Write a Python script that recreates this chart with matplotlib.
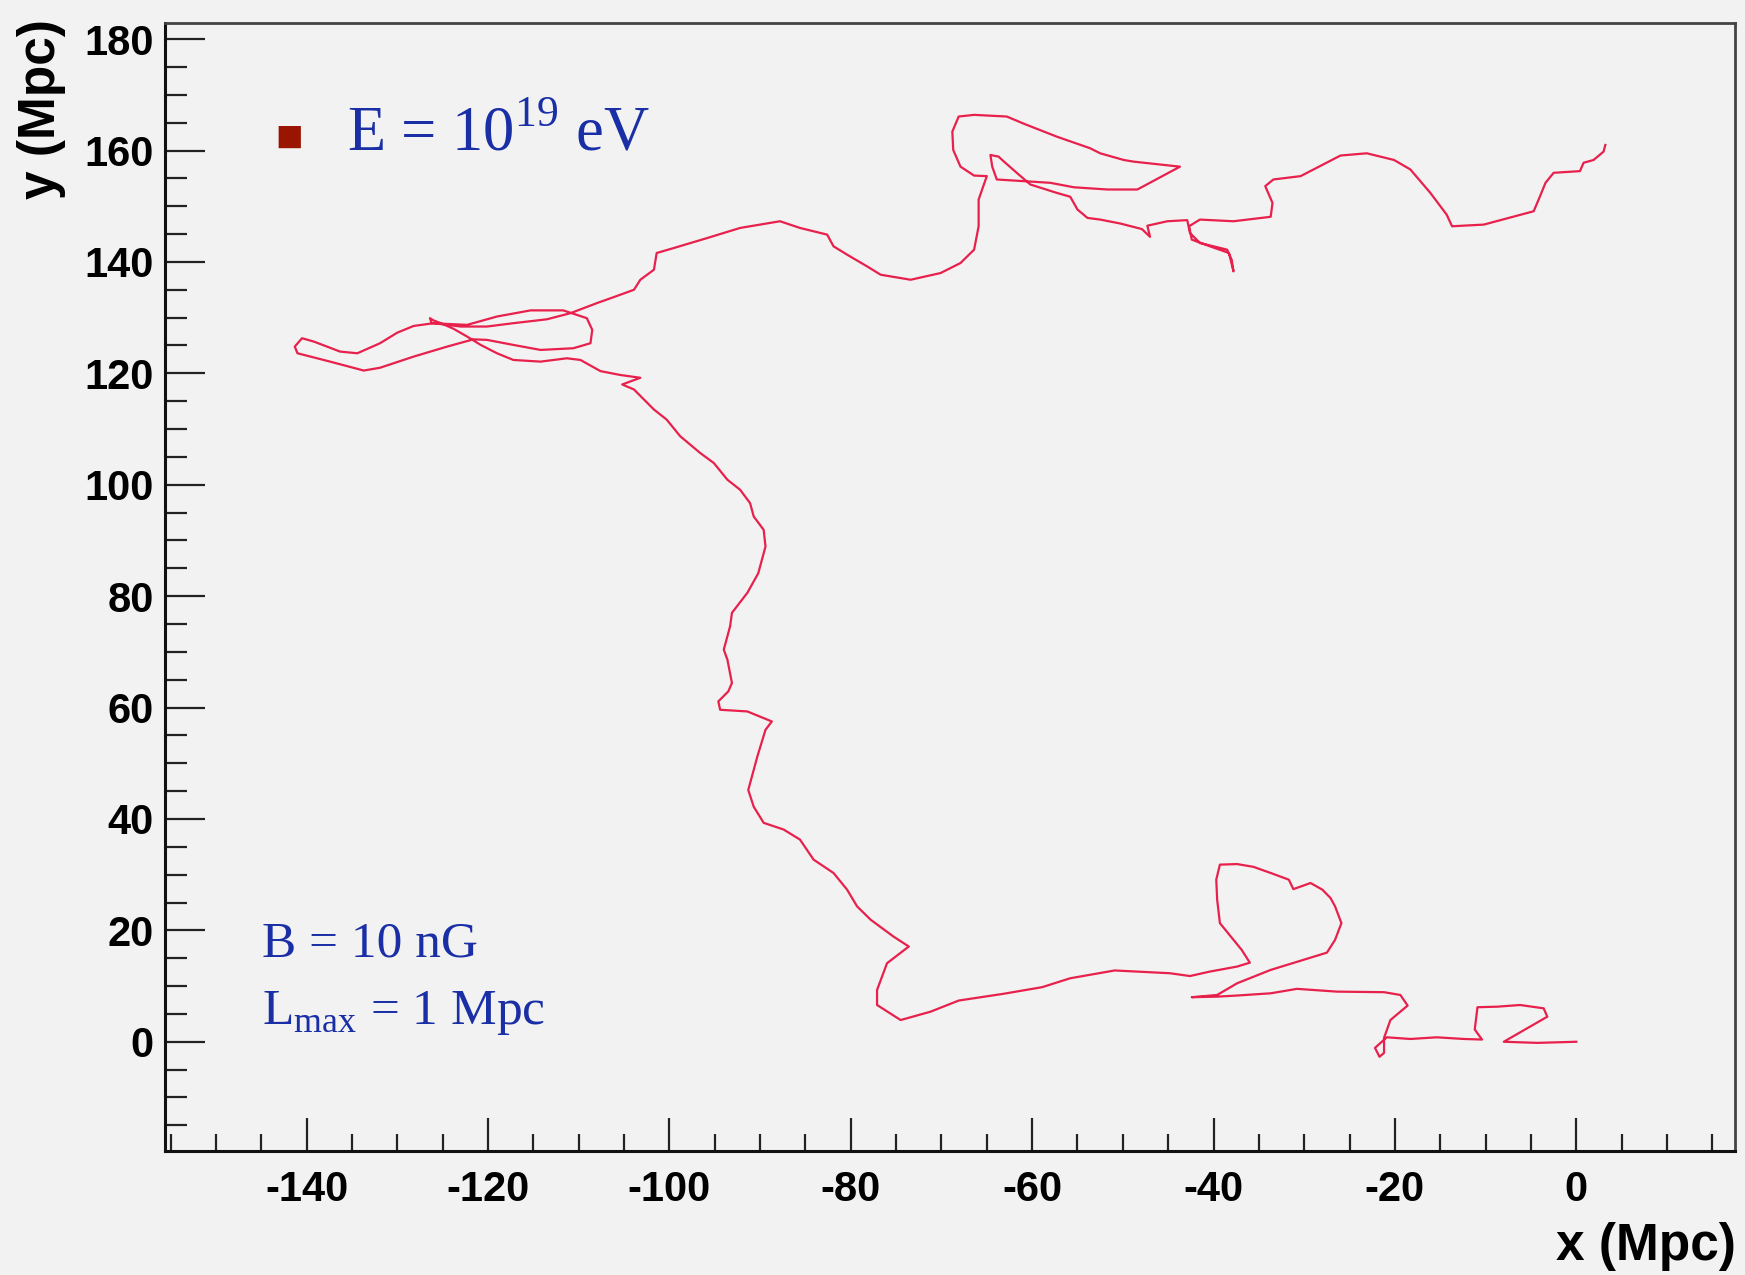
import matplotlib
matplotlib.use("Agg")
import matplotlib.pyplot as plt
from matplotlib.ticker import MultipleLocator

plt.rcParams["mathtext.fontset"] = "custom"
plt.rcParams["mathtext.rm"] = "Liberation Serif"
plt.rcParams["axes.unicode_minus"] = False

# trajectory of the particle, starting at the origin (Mpc)
track_x = [
    0.0, -4.3, -8.0, -3.2, -3.6, -6.2, -8.7, -10.9, -11.2, -10.4, -12.4, -15.4, -18.3, -20.9,
    -22.2, -21.7, -21.2, -21.2, -20.5, -18.6, -19.4, -21.2, -26.4, -30.8, -33.7, -37.4, -39.6,
    -42.4, -39.6, -37.4, -33.7, -30.1, -27.5, -26.6, -25.9, -26.6, -27.1, -28.0, -29.3, -31.2,
    -31.7, -33.7, -35.6, -37.4, -39.3, -39.7, -39.6, -39.3, -38.1, -36.9, -36.0, -37.4, -40.4,
    -42.6, -44.8, -50.9, -55.8, -58.9, -63.2, -68.1, -71.2, -74.5, -77.1, -77.1, -76.0, -73.6,
    -75.3, -77.8, -79.3, -80.4, -81.9, -84.1, -85.6, -87.4, -89.6, -90.7, -91.3, -90.3, -89.4,
    -88.7, -91.4, -94.4, -94.6, -93.5, -93.1, -93.6, -94.0, -93.3, -93.1, -91.4, -90.2, -89.4,
    -89.6, -90.7, -91.1, -92.2, -93.6, -95.1, -96.6, -98.8, -100.3, -101.7, -103.9, -105.2,
    -103.2, -105.4, -107.6,
    -109.8, -111.3, -114.2, -117.2, -119.0, -120.8, -122.3, -123.8, -125.2, -126.0, -126.4,
    -126.2, -122.3, -119.0, -115.3, -111.7, -109.1, -108.5, -108.7, -110.6, -114.2, -117.2,
    -120.1, -121.6, -124.5, -128.2, -131.9, -133.7, -137.4, -141.0, -141.3, -140.5, -139.2,
    -136.3, -134.4, -131.9, -130.0, -128.2, -126.0, -123.0, -120.1, -117.2, -113.5, -110.9,
    -108.0, -106.1, -103.9,
    -103.2, -101.7, -101.4, -99.5, -95.8, -92.2, -87.8, -85.6, -82.6, -81.9, -80.4, -78.2,
    -76.7, -73.4, -70.1, -67.9, -66.4, -65.9, -65.9, -65.0, -66.4, -67.9, -68.7, -68.8, -68.1,
    -66.4, -62.8, -60.9, -57.3, -53.6, -52.5, -49.9, -48.8, -43.7, -48.4, -51.7, -55.4, -58.0,
    -60.9, -63.9, -64.4, -64.6, -63.7, -63.1, -61.7, -60.2, -57.3, -55.8, -55.0, -53.9, -52.5,
    -50.3, -47.9, -47.0, -47.3, -45.1, -42.9, -42.6, -41.5, -38.5, -38.0, -37.8, -38.3, -40.4,
    -42.4, -42.7, -41.5, -37.8, -33.7, -33.5, -34.3, -33.4, -30.4, -26.0, -23.1, -20.1, -18.3,
    -16.1, -14.3, -13.7, -10.2, -4.7, -4.0, -3.4, -2.5, 0.4, 0.8, 1.9, 3.0, 3.2,
]
track_y = [
    0.0, -0.2, 0.0, 4.5, 6.0, 6.6, 6.3, 6.2, 2.2, 0.4, 0.5, 0.8, 0.5, 0.8,
    -1.1, -2.7, -2.0, 0.7, 3.9, 6.5, 8.4, 8.9, 9.0, 9.5, 8.7, 8.3, 8.1,
    8.0, 8.4, 10.5, 12.9, 14.7, 16.0, 18.3, 21.3, 24.3, 25.8, 27.3, 28.5, 27.4,
    29.1, 30.3, 31.4, 31.9, 31.8, 29.1, 25.5, 21.3, 18.9, 16.5, 14.2, 13.5, 12.6,
    11.8, 12.3, 12.8, 11.4, 9.8, 8.6, 7.4, 5.4, 3.9, 6.6, 9.3, 14.1, 17.1,
    18.9, 21.9, 24.3, 27.3, 30.3, 32.7, 36.3, 38.1, 39.3, 42.2, 45.2, 51.2, 56.0,
    57.5, 59.3, 59.6, 61.1, 62.9, 64.4, 68.6, 70.4, 74.6, 77.0, 80.6, 84.1, 88.9,
    91.9, 94.3, 96.7, 99.1, 100.9, 103.9, 105.7, 108.7, 111.7, 113.5, 117.1, 118.0,
    119.2, 119.7, 120.4,
    122.4, 122.7, 122.1, 122.4, 123.6, 125.1, 126.6, 128.0, 129.0, 129.5, 129.9,
    129.0, 128.7, 130.2, 131.3, 131.3, 129.9, 127.8, 125.4, 124.5, 124.2, 125.1,
    126.0, 126.1, 124.8, 123.0, 121.0, 120.5, 122.1, 123.6, 124.8, 126.3, 125.7,
    123.9, 123.6, 125.4, 127.3, 128.5, 129.0, 128.4, 128.4, 129.0, 129.7, 130.8,
    132.6, 133.7, 135.0,
    136.8, 138.6, 141.6, 142.5, 144.3, 146.1, 147.3, 146.1, 144.9, 142.8, 141.3, 139.2,
    137.7, 136.8, 138.0, 139.8, 142.2, 146.4, 151.2, 155.4, 155.5, 157.1, 160.1, 163.4, 166.1,
    166.4, 166.1, 164.8, 162.5, 160.4, 159.5, 158.3, 158.0, 157.1, 153.0, 153.0, 153.4, 154.2,
    154.5, 154.8, 157.1, 159.2, 158.9, 158.0, 156.0, 153.9, 152.4, 151.7, 149.4, 147.9, 147.6,
    146.9, 145.9, 144.5, 146.5, 147.3, 147.5, 145.2, 143.4, 142.2, 140.4, 138.3, 141.6, 142.8,
    144.0, 146.4, 147.6, 147.3, 148.1, 150.6, 153.6, 154.8, 155.4, 159.1, 159.5, 158.3, 156.6,
    152.4, 148.5, 146.4, 146.7, 149.1, 151.8, 154.2, 156.0, 156.3, 157.8, 158.3, 159.8, 161.0,
]

energy_label = r"E = 10$^{\mathrm{19}}$ eV"
field_label = "B = 10 nG"
scale_label = r"L$_{\mathrm{max}}$ = 1 Mpc"

BG = "#f2f2f2"
TEXT_BLUE = "#1a2fa6"

fig = plt.figure(figsize=(17.45, 12.75), dpi=100, facecolor=BG)
ax = fig.add_axes([0.0946, 0.0973, 0.8997, 0.8847], facecolor=BG)

ax.plot(track_x, track_y, color="#e8204c", lw=1.6)

ax.set_xlim(-155.6, 17.5)
ax.set_ylim(-19.6, 182.9)

ax.xaxis.set_major_locator(MultipleLocator(20))
ax.xaxis.set_minor_locator(MultipleLocator(5))
ax.yaxis.set_major_locator(MultipleLocator(20))
ax.yaxis.set_minor_locator(MultipleLocator(5))

ax.tick_params(axis="both", which="both", direction="in", top=False, right=False,
               color="#222222", width=1.6)
ax.tick_params(axis="y", which="major", length=29, pad=8)
ax.tick_params(axis="y", which="minor", length=16)
ax.tick_params(axis="x", which="major", length=24, pad=14)
ax.tick_params(axis="x", which="minor", length=12)

for lab in ax.get_xticklabels() + ax.get_yticklabels():
    lab.set_fontfamily("Liberation Sans")
    lab.set_fontweight("bold")
    lab.set_fontsize(30)

for side in ["left", "bottom"]:
    ax.spines[side].set_linewidth(2.2)
    ax.spines[side].set_color("#111111")
for side in ["top", "right"]:
    ax.spines[side].set_linewidth(2.0)
    ax.spines[side].set_color("#444444")

fig.text(0.024, 0.985, "y (Mpc)", rotation=90, ha="center", va="top",
         fontfamily="Liberation Sans", fontweight="bold", fontsize=37)
fig.text(0.995, 0.012, "x (Mpc)", ha="right", va="baseline",
         fontfamily="Liberation Sans", fontweight="bold", fontsize=37)

# legend-like annotations
fig.text(0.1656, 0.8925, "\u25a0", color="#9a1500", fontsize=21, ha="center", va="center",
         fontfamily="DejaVu Sans")
fig.text(0.1989, 0.8816, energy_label, color=TEXT_BLUE, fontsize=45, ha="left",
         va="baseline", fontfamily="Liberation Serif")
fig.text(0.150, 0.250, field_label, color=TEXT_BLUE, fontsize=37, ha="left",
         va="baseline", fontfamily="Liberation Serif")
fig.text(0.150, 0.197, scale_label, color=TEXT_BLUE, fontsize=37, ha="left",
         va="baseline", fontfamily="Liberation Serif")

fig.savefig("out.png", dpi=100, facecolor=BG)
